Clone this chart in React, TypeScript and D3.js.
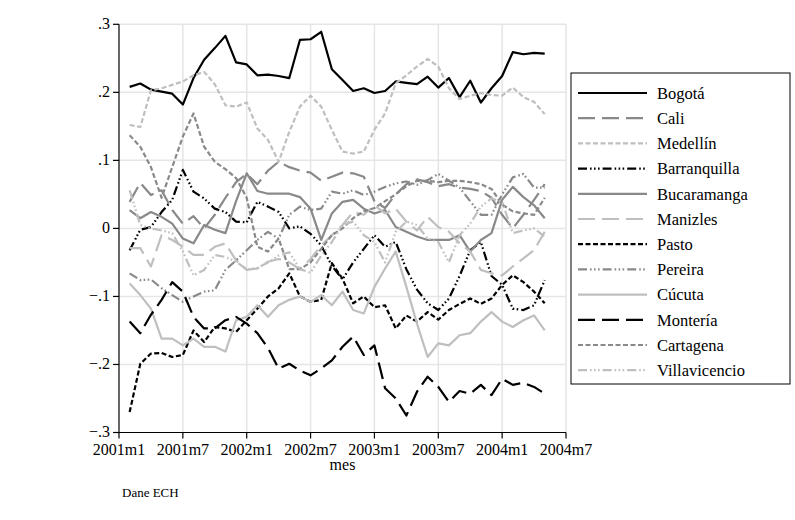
import * as d3 from 'd3'

// months since 2001m1 (2001m2 .. 2004m5)
const months = d3.range(1, 41)

const bogota = [0.208,0.213,0.204,0.201,0.198,0.182,0.221,0.248,0.265,0.283,0.244,0.241,0.225,0.226,0.224,0.221,0.277,0.278,0.289,0.234,0.218,0.202,0.206,0.199,0.202,0.216,0.214,0.212,0.223,0.207,0.221,0.193,0.217,0.185,0.206,0.224,0.259,0.256,0.258,0.257]
const cali = [0.039,0.067,0.049,0.056,0.027,0.007,0.018,0.0,0.02,0.045,0.068,0.08,0.065,0.085,0.098,0.09,0.085,0.082,0.07,0.076,0.082,0.081,0.076,0.04,0.03,0.05,0.065,0.072,0.068,0.062,0.065,0.06,0.058,0.055,0.045,0.02,0.0,0.02,0.042,0.065]
const medellin = [0.152,0.149,0.203,0.206,0.211,0.216,0.225,0.230,0.212,0.181,0.179,0.185,0.147,0.130,0.098,0.142,0.179,0.195,0.179,0.145,0.113,0.110,0.113,0.145,0.169,0.213,0.225,0.238,0.249,0.238,0.206,0.190,0.195,0.199,0.196,0.195,0.207,0.193,0.186,0.168]
const barranquilla = [-0.032,-0.002,0.002,0.024,0.042,0.086,0.054,0.044,0.029,0.024,0.010,0.009,0.039,0.032,0.024,0.0,0.003,-0.008,-0.025,-0.055,-0.075,-0.05,-0.03,-0.01,-0.027,-0.02,-0.06,-0.09,-0.11,-0.12,-0.103,-0.07,-0.032,-0.02,-0.07,-0.083,-0.118,-0.12,-0.113,-0.076]
const bucaramanga = [0.027,0.015,0.024,0.017,0.007,-0.015,-0.022,0.005,-0.002,-0.007,0.04,0.081,0.055,0.051,0.051,0.051,0.046,0.029,-0.017,0.022,0.039,0.042,0.029,0.022,0.027,0.002,-0.005,-0.012,-0.017,-0.017,-0.017,-0.01,-0.034,-0.017,-0.007,0.042,0.061,0.046,0.034,0.015]
const manizles = [-0.029,-0.029,-0.056,-0.01,-0.017,-0.027,-0.039,-0.039,-0.027,-0.022,-0.047,-0.061,-0.059,-0.049,-0.045,-0.05,-0.06,-0.045,-0.025,-0.01,0.005,0.024,0.02,0.034,0.022,0.029,0.01,-0.003,0.017,0.002,-0.005,-0.022,-0.034,-0.061,-0.066,-0.069,-0.056,-0.044,-0.032,-0.005]
const pasto = [-0.27,-0.199,-0.184,-0.183,-0.189,-0.186,-0.15,-0.167,-0.145,-0.147,-0.152,-0.135,-0.118,-0.1,-0.088,-0.066,-0.1,-0.108,-0.105,-0.051,-0.074,-0.110,-0.1,-0.116,-0.113,-0.147,-0.128,-0.137,-0.123,-0.134,-0.120,-0.111,-0.103,-0.111,-0.103,-0.083,-0.069,-0.079,-0.093,-0.110]
const pereira = [-0.066,-0.076,-0.075,-0.088,-0.098,-0.108,-0.1,-0.093,-0.091,-0.061,-0.047,-0.032,-0.017,-0.005,-0.015,0.02,0.032,0.027,0.029,0.054,0.051,0.056,0.049,0.054,0.061,0.066,0.069,0.064,0.071,0.08,0.07,0.06,0.04,0.02,0.02,0.05,0.075,0.08,0.06,0.06]
const cucuta = [-0.081,-0.098,-0.118,-0.162,-0.162,-0.172,-0.162,-0.174,-0.174,-0.181,-0.135,-0.13,-0.113,-0.13,-0.113,-0.105,-0.1,-0.108,-0.098,-0.113,-0.093,-0.12,-0.125,-0.086,-0.059,-0.034,-0.086,-0.14,-0.189,-0.169,-0.172,-0.157,-0.154,-0.137,-0.123,-0.137,-0.145,-0.135,-0.128,-0.150]
const monteria = [-0.137,-0.154,-0.127,-0.105,-0.079,-0.093,-0.13,-0.147,-0.147,-0.135,-0.13,-0.14,-0.154,-0.176,-0.206,-0.199,-0.209,-0.216,-0.206,-0.194,-0.174,-0.159,-0.186,-0.172,-0.235,-0.250,-0.275,-0.24,-0.218,-0.233,-0.255,-0.239,-0.243,-0.230,-0.245,-0.221,-0.230,-0.227,-0.233,-0.243]
const cartagena = [0.137,0.12,0.09,0.045,0.09,0.135,0.169,0.12,0.098,0.087,0.074,0.045,-0.027,-0.034,-0.015,-0.06,-0.06,-0.05,-0.03,-0.01,0.0,0.015,0.025,0.03,0.04,0.05,0.062,0.07,0.07,0.068,0.07,0.07,0.068,0.065,0.058,0.035,0.025,0.022,0.02,0.045]
const villavicencio = [0.056,0.005,0.0,-0.003,-0.007,-0.034,-0.069,-0.061,-0.039,-0.042,-0.049,-0.06,-0.058,-0.05,-0.04,-0.035,-0.06,-0.065,-0.04,-0.02,0.005,0.01,-0.01,-0.02,-0.05,-0.005,0.01,0.005,-0.015,-0.02,-0.05,-0.01,0.007,0.032,0.044,0.039,-0.007,-0.003,0.0,-0.012]

const yTicks = [-0.3, -0.2, -0.1, 0, 0.1, 0.2, 0.3]
const xTicks = [0, 6, 12, 18, 24, 30, 36, 42]

const BLACK = '#000'
const GRAY = '#898989'
const LIGHT = '#bfbfbf'
const SOLID = 'none'
const LONG = '17,7'
const SHORT = '5,2.5'
const DASHDOT = '9,3,1.6,2.4,1.6,2.4,1.6,3'

const series = [
  { name: 'Bogotá', values: bogota, color: BLACK, dash: SOLID },
  { name: 'Cali', values: cali, color: GRAY, dash: LONG },
  { name: 'Medellín', values: medellin, color: LIGHT, dash: SHORT },
  { name: 'Barranquilla', values: barranquilla, color: BLACK, dash: DASHDOT },
  { name: 'Bucaramanga', values: bucaramanga, color: GRAY, dash: SOLID },
  { name: 'Manizles', values: manizles, color: LIGHT, dash: LONG },
  { name: 'Pasto', values: pasto, color: BLACK, dash: SHORT },
  { name: 'Pereira', values: pereira, color: GRAY, dash: DASHDOT },
  { name: 'Cúcuta', values: cucuta, color: LIGHT, dash: SOLID },
  { name: 'Montería', values: monteria, color: BLACK, dash: LONG },
  { name: 'Cartagena', values: cartagena, color: GRAY, dash: SHORT },
  { name: 'Villavicencio', values: villavicencio, color: LIGHT, dash: DASHDOT },
]

const FONT = '"Liberation Serif", "Times New Roman", serif'

export default function App() {
  const width = 795
  const height = 520
  const x = d3.scaleLinear().domain([0, 42]).range([119, 566])
  const y = d3.scaleLinear().domain([-0.3, 0.3]).range([432.5, 24.3])

  const line = d3.line<number>()
    .x((_, i) => x(months[i]))
    .y(d => y(d))

  const fmtY = (v: number) => {
    if (Math.abs(v) < 1e-9) return '0'
    const s = d3.format('.1f')(v)
    return s.replace('0.', '.')
  }
  const fmtX = (m: number) => `${2001 + Math.floor(m / 12)}m${(m % 12) + 1}`

  const legX = 571, legY = 73, legW = 219, legH = 311
  const rowH = 25.2

  return (
    <svg width={width} height={height} style={{ position: 'absolute', left: 0, top: 0, background: '#fff' }}
      fontFamily={FONT}>
      <rect x={0} y={0} width={width} height={height} fill="#fff" />
      {/* grid */}
      {yTicks.filter(v => v > -0.25).map(v => (
        <line key={'gy' + v} x1={x(0)} x2={x(42)} y1={y(v)} y2={y(v)} stroke="#e5e5e5" strokeWidth={1.5} />
      ))}
      {xTicks.filter(m => m > 0).map(m => (
        <line key={'gx' + m} x1={x(m)} x2={x(m)} y1={y(-0.3)} y2={y(0.3)} stroke="#e5e5e5" strokeWidth={1.5} />
      ))}
      {/* series */}
      {series.map(s => (
        <path key={s.name} d={line(s.values) || ''} fill="none" stroke={s.color} strokeWidth={2.2}
          strokeDasharray={s.dash === SOLID ? undefined : s.dash} strokeLinejoin="round" />
      ))}
      {/* y axis */}
      <line x1={x(0)} x2={x(0)} y1={y(-0.3)} y2={y(0.3)} stroke="#000" strokeWidth={1.2} />
      {yTicks.map(v => (
        <g key={'ty' + v}>
          <line x1={x(0) - 6} x2={x(0)} y1={y(v)} y2={y(v)} stroke="#000" strokeWidth={1.2} />
          <text x={x(0) - 9} y={y(v)} dy="0.3em" textAnchor="end" fontSize={16}>{fmtY(v)}</text>
        </g>
      ))}
      {/* x axis */}
      <line x1={x(0)} x2={x(42)} y1={y(-0.3)} y2={y(-0.3)} stroke="#000" strokeWidth={1.2} />
      {xTicks.map(m => (
        <g key={'tx' + m}>
          <line x1={x(m)} x2={x(m)} y1={y(-0.3)} y2={y(-0.3) + 6} stroke="#000" strokeWidth={1.2} />
          <text x={x(m)} y={y(-0.3) + 22} textAnchor="middle" fontSize={16}>{fmtX(m)}</text>
        </g>
      ))}
      <text x={(x(0) + x(42)) / 2} y={y(-0.3) + 37} textAnchor="middle" fontSize={16}>mes</text>
      <text x={122} y={497} fontSize={13}>Dane ECH</text>
      {/* legend */}
      <rect x={legX} y={legY} width={legW} height={legH} fill="#fff" stroke="#000" strokeWidth={1} />
      {series.map((s, i) => {
        const cy = legY + 20 + i * rowH
        return (
          <g key={'lg' + s.name}>
            <line x1={578} x2={647} y1={cy} y2={cy} stroke={s.color} strokeWidth={2.2}
              strokeDasharray={s.dash === SOLID ? undefined : s.dash} />
            <text x={657} y={cy} dy="0.35em" fontSize={16.5}>{s.name}</text>
          </g>
        )
      })}
    </svg>
  )
}
